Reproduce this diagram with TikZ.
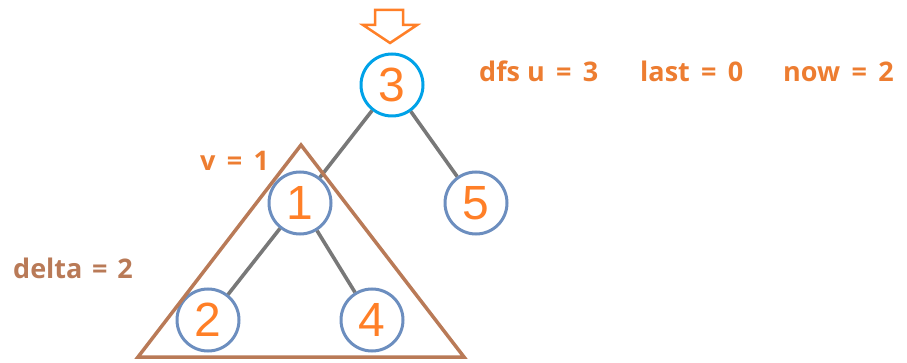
\documentclass[tikz,border=0pt]{standalone}
\usepackage{fontspec}
\setmainfont{Open Sans}
\newfontfamily\digitfont{Liberation Sans}
\newcommand\mylblfont{\bfseries\fontsize{27}{27}\selectfont\spaceskip=0.42em\relax}
\newcommand\mybrownfont{\bfseries\fontsize{27}{27}\selectfont\spaceskip=0.36em\relax}
\definecolor{txtorange}{RGB}{237,125,49}
\definecolor{digorange}{RGB}{255,127,39}
\definecolor{rootblue}{RGB}{0,162,232}
\definecolor{nodeblue}{RGB}{108,142,191}
\definecolor{tribrown}{RGB}{185,122,87}
\definecolor{edgegray}{RGB}{120,120,120}
\tikzset{
  tnode/.style={circle, draw=nodeblue, line width=3pt, minimum size=62pt, inner sep=0pt,
    text=digorange, font=\digitfont\fontsize{48}{48}\selectfont},
  rootnode/.style={tnode, draw=rootblue},
  edge/.style={draw=edgegray, line width=3.6pt},
  lbl/.style={anchor=base west, inner sep=0pt, text=txtorange, font=\mylblfont},
  brownlbl/.style={lbl, text=tribrown, font=\mybrownfont},
  tri/.style={draw=tribrown, line width=3.5pt, line join=miter},
  arrowshape/.style={draw=digorange, line width=2.5pt, line join=miter}
}
\begin{document}
\begin{tikzpicture}[x=1pt,y=-1pt]
\useasboundingbox (0,0) rectangle (907,363);
% nodes
\node[rootnode] (n3) at (392,85) {3};
\node[tnode] (n1) at (300,203) {1};
\node[tnode] (n5) at (476,203) {5};
\node[tnode] (n2) at (208,320) {2};
\node[tnode] (n4) at (372,320) {4};
% edges
\draw[edge] (n3) -- (n1);
\draw[edge] (n3) -- (n5);
\draw[edge] (n1) -- (n2);
\draw[edge] (n1) -- (n4);
% triangle
\coordinate (ta) at (301,145);
\coordinate (tl) at (138,357);
\coordinate (tr) at (464,357);
\draw[tri] (ta) -- (tl) -- (tr) -- cycle;
% hollow arrow
\draw[arrowshape] (375,10) -- (403,10) -- (403,25) -- (417,25) -- (390,43) -- (363,25) -- (375,25) -- cycle;
% labels
\node[lbl] (t1) at (479,82) {dfs\hspace{0.26em}u = 3};
\node[lbl] (t2) at (640,82) {last = 0};
\node[lbl] (t3) at (783,82) {now = 2};
\node[lbl] (tv) at (200,171) {v = 1};
\node[brownlbl] (td) at (13,278) {delta = 2};
\end{tikzpicture}
\end{document}
